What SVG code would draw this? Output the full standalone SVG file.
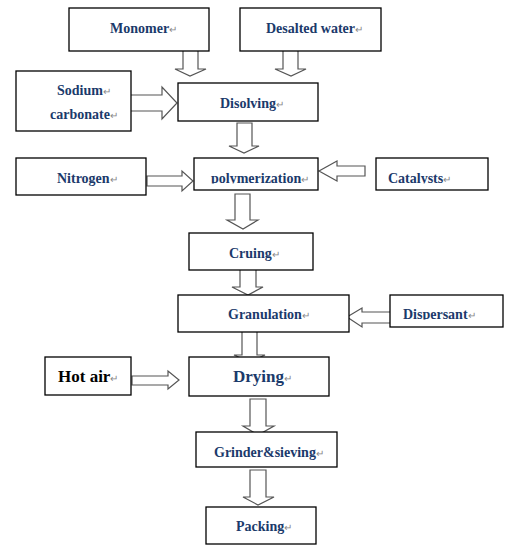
<svg xmlns="http://www.w3.org/2000/svg" width="519" height="551" viewBox="0 0 519 551">
<style>
.box{fill:#fff;stroke:#000;stroke-width:1.3}
.arr{fill:#fff;stroke:#555;stroke-width:1.2;stroke-linejoin:miter}
text{font-family:"Liberation Serif","Times New Roman",serif;font-weight:bold;font-size:14px;fill:#1b3a6b}
.big{font-size:17px}
.blk{fill:#000}
.rm{fill:#888;font-weight:normal;font-size:10px}
</style>
<defs>
<clipPath id="cPoly"><rect x="194" y="158" width="124" height="25.5"/></clipPath>
<clipPath id="cCat"><rect x="376" y="158" width="112" height="25.5"/></clipPath>
<clipPath id="cDisp"><rect x="390" y="295" width="113" height="24.5"/></clipPath>
</defs>
<g id="connectors">
<path class="arr" d="M183,51 V69 H175 L190,76 L206,69 H198 V51"/>
<path class="arr" d="M283,51 V69 H275 L291,76 L306,69 H298 V51"/>
<path class="arr" d="M131,95 H162 V87 L177,103 L162,119 V111 H131"/>
<path class="arr" d="M237,123 V146 H229 L244,153 L259,146 H252 V123 Z"/>
<path class="arr" d="M147,176 H182 V171 L193,181 L182,191 V186 H147 Z"/>
<path class="arr" d="M365,166 H337 V161 L319,171 L337,181 V176 H365 Z"/>
<path class="arr" d="M235,194 V220 H227 L243,229 L258,220 H250 V194 Z"/>
<path class="arr" d="M240,270 V287 H232 L248,295 L263,287 H256 V270"/>
<path class="arr" d="M390,312 H362 V308 L347,317 L362,327 V323 H390"/>
<path class="arr" d="M242,332 V355 H234 L250,362 L265,355 H257 V332"/>
<path class="arr" d="M132,376 H168 V371 L179,380 L168,389 V385 H132 Z"/>
<path class="arr" d="M250,399 V426 H243 L258,435 L274,426 H266 V399 Z"/>
<path class="arr" d="M250,470 V497 H243 L258,505 L274,497 H266 V470 Z"/>
</g>
<g id="monomer"><rect class="box" x="69" y="8" width="140" height="43"/><text x="110" y="33">Monomer<tspan class="rm">↵</tspan></text></g>
<g id="desalted-water"><rect class="box" x="240" y="8" width="141" height="43"/><text x="266" y="33">Desalted water<tspan class="rm">↵</tspan></text></g>
<g id="sodium-carbonate"><rect class="box" x="16" y="71" width="115" height="60"/><text x="57" y="95">Sodium<tspan class="rm">↵</tspan></text><text x="50" y="119">carbonate<tspan class="rm">↵</tspan></text></g>
<g id="disolving"><rect class="box" x="178" y="83" width="140" height="38"/><text x="220" y="108">Disolving<tspan class="rm">↵</tspan></text></g>
<g id="nitrogen"><rect class="box" x="16" y="158" width="130" height="37"/><text x="57" y="183">Nitrogen<tspan class="rm">↵</tspan></text></g>
<g id="polymerization"><rect class="box" x="194" y="158" width="124" height="32"/><text x="211" y="183" clip-path="url(#cPoly)">polymerization<tspan class="rm">↵</tspan></text></g>
<g id="catalysts"><rect class="box" x="376" y="158" width="112" height="32"/><text x="388" y="183" clip-path="url(#cCat)">Catalysts<tspan class="rm">↵</tspan></text></g>
<g id="cruing"><rect class="box" x="189" y="233" width="124" height="37"/><text x="229" y="258">Cruing<tspan class="rm">↵</tspan></text></g>
<g id="granulation"><rect class="box" x="178" y="295" width="171" height="37"/><text x="228" y="319">Granulation<tspan class="rm">↵</tspan></text></g>
<g id="dispersant"><rect class="box" x="390" y="295" width="113" height="32"/><text x="403" y="319" clip-path="url(#cDisp)">Dispersant<tspan class="rm">↵</tspan></text></g>
<g id="hot-air"><rect class="box" x="45" y="357" width="86" height="38"/><text class="big blk" x="58" y="382">Hot air<tspan class="rm">↵</tspan></text></g>
<g id="drying"><rect class="box" x="189" y="357" width="140" height="39"/><text class="big" x="233" y="382">Drying<tspan class="rm">↵</tspan></text></g>
<g id="grinder-sieving"><rect class="box" x="196" y="432" width="141" height="35"/><text x="214" y="457">Grinder&amp;sieving<tspan class="rm">↵</tspan></text></g>
<g id="packing"><rect class="box" x="206" y="507" width="110" height="37"/><text x="236" y="531">Packing<tspan class="rm">↵</tspan></text></g>
</svg>
